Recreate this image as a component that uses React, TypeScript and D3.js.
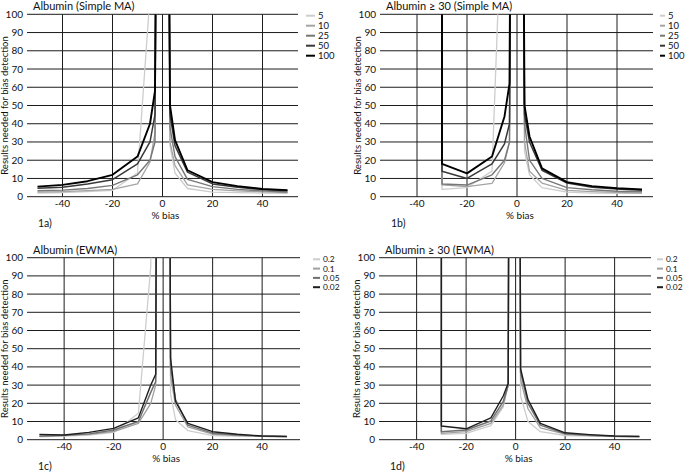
import React from 'react';
import * as d3 from 'd3';

// ---------- data ----------
const xTicks = [-40, -20, 0, 20, 40];
const yTicks = [0, 10, 20, 30, 40, 50, 60, 70, 80, 90, 100];

const maLabels = ['5', '10', '25', '50', '100'];
const ewmaLabels = ['0.2', '0.1', '0.05', '0.02'];

// 1a  Albumin (Simple MA)
const bias1a = [-50, -40, -30, -20, -10, -5, -3, -2, 2, 3, 5, 10, 20, 30, 40, 50];
const ma1a_5 = [2.0, 2.3, 2.8, 3.5, 13, 110, 400, 600, 600, 28, 13, 4.5, 2.5, 2.2, 2.0, 1.8];
const ma1a_10 = [2.5, 2.8, 3.3, 4.0, 7, 19, 35, 300, 300, 30, 17, 6.5, 4, 3.2, 2.7, 2.2];
const ma1a_25 = [3.3, 3.6, 4.5, 6.2, 12, 20, 30, 300, 300, 38, 22, 9.5, 5.5, 4, 3.2, 2.6];
const ma1a_50 = [4.6, 5.2, 7, 9.3, 18, 30, 45, 300, 300, 45, 28, 13.5, 7, 5.2, 3.9, 3.2];
const ma1a_100 = [5.5, 6.5, 8.5, 12, 22, 40, 58, 250, 250, 50, 31, 14.5, 8, 5.8, 4.2, 3.6];

// 1b  Albumin >= 30 (Simple MA)
const bias1b = [-30, -30, -20, -10, -5, -3, -2, 2, 3, 5, 10, 20, 30, 40, 50];
const ma1b_5 = [1000, 4, 5, 14, 200, 400, 600, 600, 25, 12, 5, 2.5, 2, 1.9, 1.8];
const ma1b_10 = [1000, 6.5, 5.5, 7.3, 18.6, 30, 300, 300, 30, 14, 7.5, 3.5, 2.8, 2.4, 2];
const ma1b_25 = [1000, 7, 6.4, 12, 20, 30, 300, 300, 40, 20, 10, 5, 3.8, 3, 2.7];
const ma1b_50 = [1000, 14, 10, 18, 29, 40, 300, 300, 45, 30, 14.5, 7.5, 5.2, 4.2, 3.5];
const ma1b_100 = [1000, 18, 12.8, 22, 44, 62, 300, 300, 50, 33, 15.5, 8, 5.8, 4.6, 4];

// 1c  Albumin (EWMA)
const bias1c = [-50, -40, -30, -20, -10, -5, -3, -2, 2, 3, 5, 10, 20, 30, 40, 50];
const ew1c_02 = [1.6, 2, 2.5, 4, 14.5, 95, 500, 600, 500, 25, 11, 5, 2.2, 2, 1.8, 1.5];
const ew1c_01 = [1.8, 2.2, 3, 4.5, 9, 20, 30, 400, 400, 35, 19, 7, 3, 2.3, 1.9, 1.6];
const ew1c_005 = [2, 2.4, 3.2, 5.3, 10, 26, 32, 400, 400, 40, 22, 8, 3.6, 2.6, 2, 1.7];
const ew1c_002 = [2.9, 2.6, 4, 6.2, 12, 30, 36, 400, 400, 45, 21, 9, 4.4, 3, 2, 1.8];

// 1d  Albumin >= 30 (EWMA)
const bias1d = [-30, -30, -20, -10, -5, -3, -2, 1, 2, 5, 10, 20, 30, 40, 50];
const ew1d_02 = [1000, 2.9, 3.5, 7.7, 18, 30, 500, 500, 24, 10, 4.4, 2.3, 2, 1.7, 1.5];
const ew1d_01 = [1000, 3.5, 4.4, 9, 19, 30, 500, 500, 33, 17, 6.5, 3, 2.2, 1.8, 1.6];
const ew1d_005 = [1000, 4.4, 5.3, 10.3, 21, 30, 500, 500, 37, 20, 8, 3.3, 2.5, 1.9, 1.7];
const ew1d_002 = [1000, 7.5, 6.0, 12, 24, 31, 500, 500, 39, 22, 9, 3.8, 2.8, 2, 1.8];

// ---------- styles ----------
const maColors = ['#cdcdcd', '#a4a4a4', '#777777', '#383838', '#000000'];
const maWidths = [1.3, 1.3, 1.4, 1.5, 1.9];
const ewColors = ['#cdcdcd', '#a0a0a0', '#707070', '#1e1e1e'];
const ewWidths = [1.3, 1.3, 1.5, 1.4];
const FONT = 'Lato, "Open Sans", sans-serif';

type PanelProps = {
  id: string;
  ox: number;
  left: number;
  right: number;
  top: number;
  bottom: number;
  xDomain: [number, number];
  bias: number[];
  series: number[][];
  labels: string[];
  colors: string[];
  widths: number[];
  title: string;
  tag: string;
  legendX: number;
  legendLen: number;
  legendY0: number;
  legendStep: number;
  legendFont: number;
};

function Panel(p: PanelProps) {
  const x = d3.scaleLinear().domain(p.xDomain).range([p.left, p.right]);
  const y = d3.scaleLinear().domain([0, 100]).range([p.bottom, p.top]);
  const line = d3
    .line<[number, number]>()
    .x((d) => x(d[0]))
    .y((d) => y(d[1]));
  const grid = '#1c1c1c';
  const clipId = 'clip-' + p.id;
  return (
    <g>
      <defs>
        <clipPath id={clipId}>
          <rect x={p.left - 2} y={p.top} width={p.right - p.left + 4} height={p.bottom - p.top + 2} />
        </clipPath>
      </defs>
      {yTicks.map((t) => (
        <line key={'h' + t} x1={p.left} x2={p.right} y1={y(t)} y2={y(t)} stroke={grid} strokeWidth={1} />
      ))}
      {xTicks.map((t) => (
        <line key={'v' + t} x1={x(t)} x2={x(t)} y1={p.top} y2={p.bottom} stroke={grid} strokeWidth={1} />
      ))}
      {yTicks.map((t) => (
        <text
          key={'yl' + t}
          x={p.left - 4}
          y={y(t)}
          dy="0.35em"
          textAnchor="end"
          fontSize={10}
          fontFamily={FONT}
          fill="#111"
        >
          {t}
        </text>
      ))}
      {xTicks.map((t) => (
        <text
          key={'xl' + t}
          x={x(t)}
          y={p.bottom + 10.5}
          textAnchor="middle"
          fontSize={10}
          fontFamily={FONT}
          fill="#111"
        >
          {t}
        </text>
      ))}
      <g clipPath={`url(#${clipId})`}>
        {p.series.map((s, i) => (
          <path
            key={'s' + i}
            d={line(p.bias.map((b, j) => [b, s[j]] as [number, number])) || ''}
            fill="none"
            stroke={p.colors[i]}
            strokeWidth={p.widths[i]}
            strokeLinejoin="round"
          />
        ))}
      </g>
      <text x={p.left + 6} y={p.top - 4} fontSize={11} fontFamily={FONT} fill="#111">
        {p.title}
      </text>
      <text
        transform={`translate(${p.ox + 8},${(p.top + p.bottom) / 2}) rotate(-90)`}
        textAnchor="middle"
        fontSize={9.5}
        fontFamily={FONT}
        fill="#111"
      >
        Results needed for bias detection
      </text>
      <text
        x={x(0) + 3}
        y={p.bottom + 22}
        textAnchor="middle"
        fontSize={10}
        fontFamily={FONT}
        fill="#111"
      >
        % bias
      </text>
      <text x={p.left + 11} y={p.bottom + 30} fontSize={10.5} fontFamily={FONT} fill="#111">
        {p.tag}
      </text>
      {p.labels.map((lab, i) => {
        const ly = p.legendY0 + i * p.legendStep;
        return (
          <g key={'lg' + i}>
            <line
              x1={p.legendX}
              x2={p.legendX + p.legendLen}
              y1={ly}
              y2={ly}
              stroke={p.colors[i]}
              strokeWidth={2}
            />
            <text
              x={p.legendX + p.legendLen + 3}
              y={ly}
              dy="0.35em"
              fontSize={p.legendFont}
              fontFamily={FONT}
              fill="#111"
            >
              {lab}
            </text>
          </g>
        );
      })}
    </g>
  );
}

export default function App() {
  return (
    <svg
      width={689}
      height={473}
      style={{ position: 'absolute', left: 0, top: 0, background: '#fff' }}
    >
      <rect x={0} y={0} width={689} height={473} fill="#fff" />
      <Panel
        id="a"
        ox={0}
        left={27}
        right={298}
        top={14.3}
        bottom={196.7}
        xDomain={[-54.2, 54.2]}
        bias={bias1a}
        series={[ma1a_5, ma1a_10, ma1a_25, ma1a_50, ma1a_100]}
        labels={maLabels}
        colors={maColors}
        widths={maWidths}
        title="Albumin (Simple MA)"
        tag="1a)"
        legendX={306}
        legendLen={9}
        legendY0={15.7}
        legendStep={10}
        legendFont={9.5}
      />
      <Panel
        id="b"
        ox={353}
        left={380}
        right={653}
        top={14.3}
        bottom={196.7}
        xDomain={[-54.8, 54.4]}
        bias={bias1b}
        series={[ma1b_5, ma1b_10, ma1b_25, ma1b_50, ma1b_100]}
        labels={maLabels}
        colors={maColors}
        widths={maWidths}
        title="Albumin ≥ 30 (Simple MA)"
        tag="1b)"
        legendX={660}
        legendLen={5}
        legendY0={15.7}
        legendStep={10}
        legendFont={9.5}
      />
      <Panel
        id="c"
        ox={0}
        left={27}
        right={300}
        top={257.7}
        bottom={439.7}
        xDomain={[-55, 55.3]}
        bias={bias1c}
        series={[ew1c_02, ew1c_01, ew1c_005, ew1c_002]}
        labels={ewmaLabels}
        colors={ewColors}
        widths={ewWidths}
        title="Albumin (EWMA)"
        tag="1c)"
        legendX={313}
        legendLen={7}
        legendY0={259.3}
        legendStep={9.3}
        legendFont={8.4}
      />
      <Panel
        id="d"
        ox={352}
        left={379}
        right={651}
        top={257.7}
        bottom={439.7}
        xDomain={[-55.2, 54.7]}
        bias={bias1d}
        series={[ew1d_02, ew1d_01, ew1d_005, ew1d_002]}
        labels={ewmaLabels}
        colors={ewColors}
        widths={ewWidths}
        title="Albumin ≥ 30 (EWMA)"
        tag="1d)"
        legendX={657}
        legendLen={6}
        legendY0={259.3}
        legendStep={9.3}
        legendFont={8.4}
      />
    </svg>
  );
}
